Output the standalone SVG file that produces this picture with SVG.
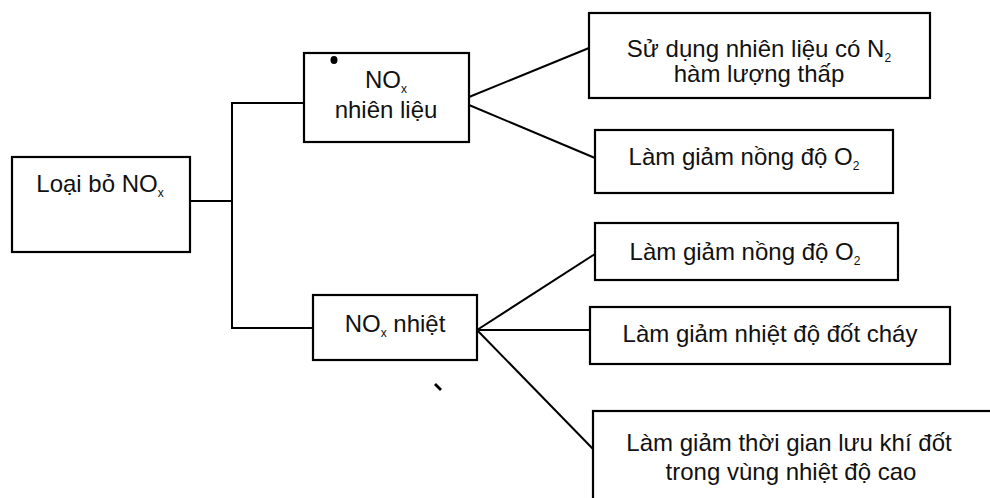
<svg xmlns="http://www.w3.org/2000/svg" width="990" height="498" viewBox="0 0 990 498">
  <style>
    .box { fill: #ffffff; stroke: #000000; stroke-width: 2.2; }
    .link { fill: none; stroke: #000000; stroke-width: 2; stroke-linecap: butt; stroke-linejoin: miter; }
    .lbl { font-family: "Liberation Sans", Arial, sans-serif; font-size: 24px; fill: #111111; text-anchor: middle; }
    .sub { font-size: 12px; }
  </style>
  <rect width="990" height="498" fill="#ffffff"/>

  <!-- connectors -->
  <g id="connectors">
    <polyline class="link" points="190,201 232,201"/>
    <polyline class="link" points="304,103 232,103 232,328 313,328"/>
    <line class="link" x1="469" y1="97" x2="589" y2="48"/>
    <line class="link" x1="469" y1="105" x2="595" y2="158"/>
    <line class="link" x1="477" y1="330" x2="595" y2="254"/>
    <line class="link" x1="477" y1="330" x2="590" y2="330"/>
    <line class="link" x1="477" y1="330" x2="593" y2="449"/>
  </g>

  <!-- root -->
  <g id="node-root">
    <rect class="box" x="12" y="157" width="178" height="95"/>
    <text class="lbl" x="100" y="192">Loại bỏ NO<tspan class="sub" dy="5">x</tspan></text>
  </g>

  <!-- second level -->
  <g id="node-fuel-nox">
    <rect class="box" x="304" y="53" width="165" height="89"/>
    <text class="lbl" x="386" y="88">NO<tspan class="sub" dy="5">x</tspan></text>
    <text class="lbl" x="386" y="118">nhiên liệu</text>
  </g>
  <g id="node-thermal-nox">
    <rect class="box" x="313" y="295" width="164" height="65"/>
    <text class="lbl" x="395" y="332">NO<tspan class="sub" dy="5">x</tspan><tspan dy="-5"> nhiệt</tspan></text>
  </g>

  <!-- measures -->
  <g id="node-low-n2">
    <rect class="box" x="589" y="13" width="341" height="85"/>
    <text class="lbl" x="759" y="57">Sử dụng nhiên liệu có N<tspan class="sub" dy="5">2</tspan></text>
    <text class="lbl" x="759" y="82">hàm lượng thấp</text>
  </g>
  <g id="node-o2-fuel">
    <rect class="box" x="595" y="130" width="298" height="63"/>
    <text class="lbl" x="744" y="165">Làm giảm nồng độ O<tspan class="sub" dy="5">2</tspan></text>
  </g>
  <g id="node-o2-thermal">
    <rect class="box" x="595" y="223" width="303" height="57"/>
    <text class="lbl" x="745" y="260">Làm giảm nồng độ O<tspan class="sub" dy="5">2</tspan></text>
  </g>
  <g id="node-flame-temp">
    <rect class="box" x="590" y="307" width="360" height="57"/>
    <text class="lbl" x="770" y="342">Làm giảm nhiệt độ đốt cháy</text>
  </g>
  <g id="node-residence">
    <rect class="box" x="593" y="411" width="420" height="110"/>
    <text class="lbl" x="789" y="451">Làm giảm thời gian lưu khí đốt</text>
    <text class="lbl" x="791" y="480">trong vùng nhiệt độ cao</text>
  </g>

  <!-- ink specks -->
  <ellipse cx="334" cy="60" rx="3.5" ry="4" fill="#000000"/>
  <path d="M436,383 L442,389 L440,391 L434,385 Z" fill="#000000"/>
</svg>
